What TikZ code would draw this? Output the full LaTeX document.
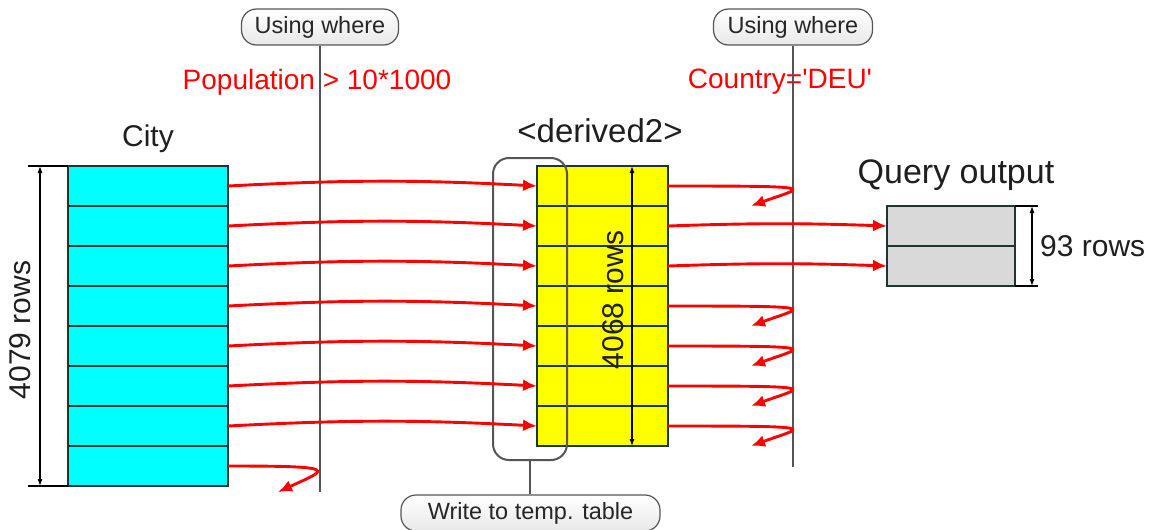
\documentclass[tikz,border=0pt]{standalone}
\usepackage{fontspec}
\setmainfont{Liberation Sans}
\usetikzlibrary{arrows.meta,calc}
\definecolor{tabline}{HTML}{1F3535}
\definecolor{cyancol}{HTML}{00FFFF}
\definecolor{yelcol}{HTML}{FFFF00}
\definecolor{qgray}{HTML}{D9D9D9}
\definecolor{arrred}{HTML}{FF0000}
\definecolor{vgray}{HTML}{555555}
\begin{document}
\begin{tikzpicture}[x=1pt,y=1pt,
  cell/.style={draw=tabline, line width=1.6pt, inner sep=0pt, outer sep=0pt, minimum height=40pt},
  redarrow/.style={draw=arrred, line width=2.9pt, -{Latex[length=14pt,width=12pt]}},
  dimline/.style={draw=black, line width=1.1pt},
  dimarrow/.style={draw=black, line width=1.1pt, {Latex[length=7pt,width=5pt]}-{Latex[length=7pt,width=5pt]}},
  pill/.style={draw=vgray, line width=1.2pt, rounded corners=15pt, top color=white, bottom color=gray!18,
    minimum height=36pt, inner sep=0pt, font=\fontsize{23.5}{27}\selectfont, text=black!85},
  vline/.style={draw=vgray, line width=2.5pt},
  lab/.style={font=\fontsize{30}{34}\selectfont, text=black!88, inner sep=0pt},
  redlab/.style={font=\fontsize{28}{32}\selectfont, text=arrred, inner sep=0pt},
  grp/.style={draw=vgray, line width=2pt, rounded corners=16pt, inner sep=0pt, outer sep=0pt}
]
\useasboundingbox (0,0) rectangle (1149,-530);

% tables
\foreach \i in {1,...,8}
  \node[cell, fill=cyancol, minimum width=160pt] (city\i) at (148,{-146-40*\i}) {};
\foreach \i in {1,...,7}
  \node[cell, fill=yelcol, minimum width=131pt] (der\i) at (602.5,{-146-40*\i}) {};
\foreach \i in {1,2}
  \node[cell, fill=qgray, minimum width=128pt] (q\i) at (951,{-186-40*\i}) {};

% table titles
\node[lab] (tcity) at (148,-139) {City};
\node[lab, font=\fontsize{33}{36}\selectfont] (tder) at (600,-131) {<derived2>};
\node[lab, font=\fontsize{34}{38}\selectfont] (tq) at (956,-175) {Query output};

% dimension: City
\draw[dimline] (city1.north west) -- ++(-40,0) coordinate (cx1);
\draw[dimline] (city8.south west) -- ++(-40,0) coordinate (cx2);
\coordinate (ca) at ($(city1.north west)+(-28,0)$);
\coordinate (cb) at ($(city8.south west)+(-28,0)$);
\draw[dimarrow] (ca) -- (cb);
\node[lab, rotate=90] (rcity) at (20,-330) {4079 rows};

% dimension: derived2
\coordinate (da) at ($(der1.north west)+(95,0)$);
\coordinate (db) at ($(der7.south west)+(95,0)$);
\draw[dimarrow] (da) -- (db);
\node[lab, rotate=90] (rder) at (613,-300) {4068 rows};

% dimension: query output
\draw[dimline] (q1.north east) -- ++(23,0) coordinate (qx1);
\draw[dimline] (q2.south east) -- ++(23,0) coordinate (qx2);
\coordinate (qa) at ($(q1.north east)+(17,0)$);
\coordinate (qb) at ($(q2.south east)+(17,0)$);
\draw[dimarrow] (qa) -- (qb);
\node[lab, anchor=west] (rq) at (1040,-246) {93 rows};

% group around first column
\node[grp, minimum width=74pt, minimum height=302pt] (grp) at (530,-309) {};
\node[pill, minimum width=259pt] (wtt) at (530.5,-513) {Write to temp. table};
\draw[vline, line width=2pt] (grp.south) -- (grp.south |- wtt.north);

% conditions
\node[redlab] (cond1) at (317,-82) {Population > 10*1000};
\node[redlab] (cond2) at (780,-82) {Country=\textquotesingle DEU\textquotesingle};

% using where
\node[pill, minimum width=157pt] (uw1) at (320,-27) {Using where};
\node[pill, minimum width=159pt] (uw2) at (793,-27) {Using where};
\coordinate (v1end) at (320,-492);
\coordinate (v2end) at (793,-467);
\draw[vline] (uw1.south) -- (v1end);
\draw[vline] (uw2.south) -- (v2end);

% arrows City -> derived2
\foreach \i in {1,...,7}
  \draw[redarrow] (city\i.east) to[bend left=3] (der\i.west);
% curl from city row 8
\coordinate (e8) at ($(city8.east)+(50,-26)$);
\draw[redarrow] (city8.east) .. controls ($(city8.east)+(115,0)$) and ($(city8.east)+(100,-3)$) .. (e8);

% derived2 -> query output
\draw[redarrow] (der2.east) to[bend left=2] (q1.west);
\draw[redarrow] (der3.east) to[bend left=2] (q2.west);
% curls from derived2
\foreach \i in {1,4,5,6,7} {
  \coordinate (de\i) at ($(der\i.east)+(83,-20)$);
  \draw[redarrow] (der\i.east) .. controls ($(der\i.east)+(160,0)$) and ($(der\i.east)+(135,-1)$) .. (de\i);
}
\end{tikzpicture}
\end{document}
